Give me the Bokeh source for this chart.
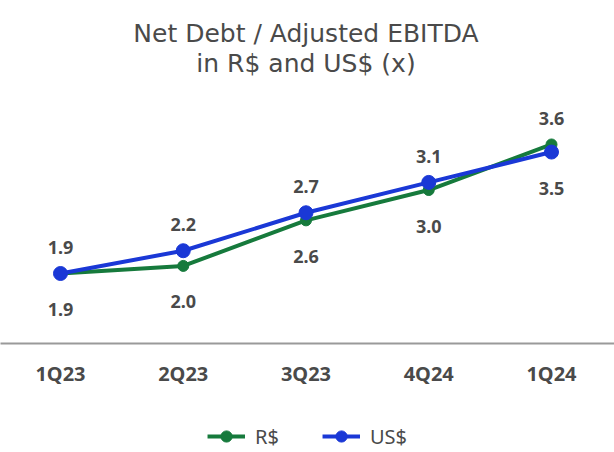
from bokeh.plotting import figure
from bokeh.layouts import column
from bokeh.models import ColumnDataSource, Range1d, FixedTicker, Legend, LegendItem
from bokeh.core.properties import value
from bokeh.embed import file_html
from bokeh.resources import INLINE

# chart data
quarters = ["1Q23", "2Q23", "3Q23", "4Q24", "1Q24"]
brl = [1.9, 2.0, 2.6, 3.0, 3.6]
usd = [1.9, 2.2, 2.7, 3.1, 3.5]
title_lines = ["Net Debt / Adjusted EBITDA", "in R$ and US$ (x)"]

green = "#167a3c"
blue = "#1a38d6"
text_color = "#4a4a4a"
font = "Noto Sans"

W, H_MAIN, H_LEG = 614, 420, 32
FRAME_H = 343          # frame runs from the top of the figure down to the axis line
PX_PER_UNIT = 75.9
X_STEP, X0 = 122.75, 60

xs = list(range(len(quarters)))

# scales: pixel -> data helpers so the frame lines up with the layout
y_hi = 1.9 + 273 / PX_PER_UNIT
y_lo = y_hi - FRAME_H / PX_PER_UNIT
def px_to_y(py):
    return y_hi - py / PX_PER_UNIT

# label above the point when the series is the higher one, below otherwise
brl_off = [-26 if b > u else 36 for b, u in zip(brl, usd)]
usd_off = [-26 if u >= b else 36 for b, u in zip(brl, usd)]

src_brl = ColumnDataSource(dict(x=xs, y=brl, lbl=["%.1f" % v for v in brl], off=brl_off))
src_usd = ColumnDataSource(dict(x=xs, y=usd, lbl=["%.1f" % v for v in usd], off=usd_off))

p = figure(width=W, height=H_MAIN, output_backend="svg", toolbar_location=None,
           x_range=Range1d(-X0 / X_STEP, (W - X0) / X_STEP), y_range=Range1d(y_lo, y_hi),
           y_axis_location=None, min_border_left=0, min_border_right=0,
           min_border_top=0, min_border_bottom=H_MAIN - FRAME_H)
p.outline_line_color = None
p.grid.grid_line_color = None

# two-line title
mid = (len(quarters) - 1) / 2
p.text([mid, mid], [px_to_y(33), px_to_y(63)], text=title_lines, text_align="center",
       text_baseline="middle", text_font=value("DejaVu Sans"), text_font_size="25px",
       text_color=text_color)

# x axis
p.xaxis.ticker = FixedTicker(ticks=xs)
p.xaxis.major_label_overrides = {i: q for i, q in enumerate(quarters)}
p.xaxis.major_tick_line_color = None
p.xaxis.minor_tick_line_color = None
p.xaxis.axis_line_color = "#9a9a9a"
p.xaxis.axis_line_width = 2
p.xaxis.major_label_standoff = 10
p.xaxis.major_label_text_font = font
p.xaxis.major_label_text_font_size = "20px"
p.xaxis.major_label_text_font_style = "bold"
p.xaxis.major_label_text_color = text_color

# series
p.line("x", "y", source=src_brl, line_color=green, line_width=4)
p.scatter("x", "y", source=src_brl, size=11, fill_color=green, line_color=green)
p.line("x", "y", source=src_usd, line_color=blue, line_width=4)
p.scatter("x", "y", source=src_usd, size=14, fill_color=blue, line_color=blue)

# data labels
for src in (src_brl, src_usd):
    p.text("x", "y", text="lbl", source=src, y_offset="off", text_align="center",
           text_baseline="middle", text_font=value(font), text_font_size="18px",
           text_font_style="bold", text_color=text_color)

# legend in its own strip under the chart (NaN points: nothing drawn but the key)
lg = figure(width=W, height=H_LEG, output_backend="svg", toolbar_location=None,
            x_axis_location=None, y_axis_location=None, min_border=0)
lg.outline_line_color = None
lg.grid.grid_line_color = None
nan = float("nan")
gl = lg.line([nan], [nan], line_color=green, line_width=4)
gs = lg.scatter([nan], [nan], size=11, fill_color=green, line_color=green)
bl = lg.line([nan], [nan], line_color=blue, line_width=4)
bs = lg.scatter([nan], [nan], size=11, fill_color=blue, line_color=blue)
legend = Legend(items=[LegendItem(label="R$", renderers=[gl, gs]),
                       LegendItem(label="US$", renderers=[bl, bs])],
                orientation="horizontal", location="center",
                label_text_font=font, label_text_font_size="20px",
                label_text_color=text_color, glyph_width=38, glyph_height=28,
                spacing=43, label_standoff=10, padding=0, margin=0,
                border_line_color=None, background_fill_alpha=0)
lg.add_layout(legend)

open("out.html", "w").write(file_html(column(p, lg), INLINE))
